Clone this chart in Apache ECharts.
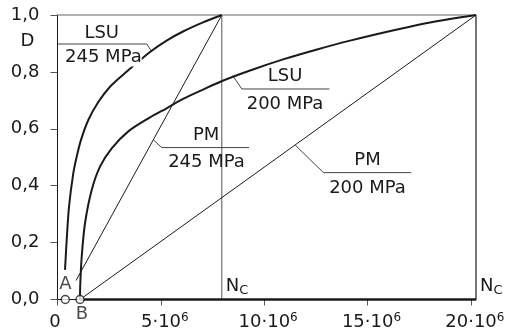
<!DOCTYPE html>
<html>
<head>
<meta charset="utf-8">
<script src="https://cdn.jsdelivr.net/npm/echarts@6/dist/echarts.min.js"></script>
<style>
  html, body { margin: 0; padding: 0; background: #fff; }
  #chart { width: 508px; height: 333px; }
</style>
</head>
<body>
<div id="chart"></div>
<script>
// 坐标轴刻度
var xTicks = [0, 5e6, 10e6, 15e6, 20e6];
var yTicks = [0, 0.2, 0.4, 0.6, 0.8, 1.0];

// 起点 A / B 与 N_C
var nA = 0.378e6, nB = 1.089e6;
var nc245 = 7.95e6, nc200 = 20.25e6;

// LSU 曲线 (N, D)
var lsu245 = [
  [0.363e6, 0.104], [0.445e6, 0.209], [0.557e6, 0.326], [0.765e6, 0.444],
  [0.929e6, 0.502], [1.137e6, 0.561], [1.491e6, 0.631], [1.975e6, 0.694],
  [2.541e6, 0.748], [3.349e6, 0.801], [4.477e6, 0.870], [5.30e6, 0.911],
  [6.074e6, 0.942], [7.042e6, 0.974], [7.95e6, 1.0]
];
var lsu200 = [
  [1.089e6, 0.0], [1.10e6, 0.05], [1.171e6, 0.150], [1.331e6, 0.268], [1.655e6, 0.385],
  [2.057e6, 0.467], [2.623e6, 0.531], [3.427e6, 0.591], [4.477e6, 0.640],
  [5.30e6, 0.673], [6.074e6, 0.705], [7.042e6, 0.738], [7.962e6, 0.768],
  [9.317e6, 0.805], [10.915e6, 0.844], [12.56e6, 0.879], [14.16e6, 0.910],
  [16.43e6, 0.949], [18.03e6, 0.974], [20.25e6, 1.0]
];
// PM 直线
var pm245 = [[0.90e6, 0.067], [nc245, 1.0]];
var pm200 = [[nB, 0], [nc200, 1.0]];

// 标注引线 (数据坐标)
var leadLsu245 = [[0.03e6, 0.898], [4.32e6, 0.898], [4.56e6, 0.871]];
var leadLsu200 = [[8.48e6, 0.787], [8.92e6, 0.740], [13.16e6, 0.740]];
var leadPm245 = [[4.64e6, 0.561], [5.04e6, 0.534], [9.27e6, 0.534]];
var leadPm200 = [[11.50e6, 0.543], [12.87e6, 0.446], [17.11e6, 0.446]];

// 标注文字 (数据坐标)
var labels = [
  { text: 'LSU', at: [2.14e6, 0.936] },
  { text: '245 MPa', at: [2.22e6, 0.851], mask: true },
  { text: 'LSU', at: [11.01e6, 0.783] },
  { text: '200 MPa', at: [11.01e6, 0.685] },
  { text: 'PM', at: [7.19e6, 0.576] },
  { text: '245 MPa', at: [7.21e6, 0.482] },
  { text: 'PM', at: [15.0e6, 0.490] },
  { text: '200 MPa', at: [15.0e6, 0.391] }
];

var FONT = 'DejaVu Sans';
var INK = '#1a1a1a';

var chart = echarts.init(document.getElementById('chart'));

function seg(data, color, width) {
  return {
    type: 'line', data: data, symbol: 'none', clip: false, silent: true,
    lineStyle: { color: color, width: width }, z: 3
  };
}
function curve(data) {
  return {
    type: 'line', data: data, symbol: 'none', smooth: 0.3, clip: false,
    lineStyle: { color: INK, width: 2 }, z: 4
  };
}

var option = {
  animation: false,
  grid: { left: 57.5, right: 32, top: 15, bottom: 33.5 },
  xAxis: {
    type: 'value', min: 0, max: nc200, interval: 5e6,
    splitLine: { show: false },
    axisLine: { show: true, lineStyle: { color: INK, width: 1 } },
    axisTick: { show: true, length: 6, customValues: xTicks, lineStyle: { color: '#555' } },
    axisLabel: {
      customValues: xTicks, margin: 12,
      formatter: function (v) {
        if (v === 0) return '{z|0}';
        return '{a|' + Math.round(v / 1e6) + '·10}{s|6}';
      },
      rich: {
        z: { fontFamily: FONT, fontSize: 18, color: INK, verticalAlign: 'bottom', lineHeight: 20, padding: [0, 5, 0, 0] },
        a: { fontFamily: FONT, fontSize: 18, color: INK, verticalAlign: 'bottom', lineHeight: 20, padding: [0, 0, 0, 8] },
        s: { fontFamily: FONT, fontSize: 12, color: INK, verticalAlign: 'top', lineHeight: 20, padding: [0, 0, 8, 0] }
      }
    }
  },
  yAxis: {
    type: 'value', min: 0, max: 1, interval: 0.2,
    splitLine: { show: false },
    axisLine: { show: true, lineStyle: { color: INK, width: 1 } },
    axisTick: { show: true, length: 7, lineStyle: { color: '#555' } },
    axisLabel: {
      fontFamily: FONT, fontSize: 18, color: INK, margin: 18,
      formatter: function (v) { return v.toFixed(1).replace('.', ','); }
    }
  },
  series: [
    seg([[0, 1], [nc200, 1]], '#666', 1),
    seg([[nc245, 0], [nc245, 1]], '#555', 1),
    seg([[nc200, 0], [nc200, 1]], INK, 1.2),
    seg([[nB, 0], [nc200, 0]], INK, 2.5),
    seg(pm245, INK, 1),
    seg(pm200, INK, 1),
    curve(lsu245),
    curve(lsu200),
    seg(leadLsu245, '#444', 1),
    seg(leadLsu200, '#444', 1),
    seg(leadPm245, '#444', 1),
    seg(leadPm200, '#444', 1),
    {
      type: 'scatter', clip: false, symbol: 'circle', symbolSize: 8, z: 6,
      itemStyle: { color: '#fff', borderColor: INK, borderWidth: 1.5 },
      label: { show: true, fontFamily: FONT, fontSize: 18, color: INK },
      data: [
        { value: [nA, 0], label: { formatter: 'A', position: 'top', distance: 1 } },
        { value: [nB, 0], label: { formatter: 'B', position: 'bottom', distance: 1, offset: [2, 0] } }
      ]
    }
  ]
};
chart.setOption(option);

// 文字标注
function px(p) { return chart.convertToPixel({ gridIndex: 0 }, p); }
var gfx = labels.map(function (l) {
  var p = px(l.at);
  return {
    type: 'text', x: p[0], y: p[1], z: 60,
    style: {
      text: l.text, fontFamily: FONT, fontSize: 18, fill: INK,
      align: 'center', verticalAlign: 'middle',
      backgroundColor: l.mask ? '#fff' : null
    }
  };
});
var pD = px([0, 0.908]);
gfx.push({ type: 'text', x: pD[0] - 30, y: pD[1], style: { text: 'D', fontFamily: FONT, fontSize: 18, fill: INK, align: 'center', verticalAlign: 'middle' } });
[nc245, nc200].forEach(function (n) {
  var p = px([n, 0.044]);
  gfx.push({
    type: 'text', x: p[0] + 4, y: p[1],
    style: {
      text: '{n|N}{c|C}', fontFamily: FONT, fill: INK, align: 'left', verticalAlign: 'middle',
      rich: {
        n: { fontFamily: FONT, fontSize: 18, fill: INK, verticalAlign: 'top', lineHeight: 20 },
        c: { fontFamily: FONT, fontSize: 13, fill: INK, verticalAlign: 'bottom', lineHeight: 20 }
      }
    }
  });
});
chart.setOption({ graphic: gfx });

window.addEventListener('resize', function () { chart.resize(); });
</script>
</body>
</html>
